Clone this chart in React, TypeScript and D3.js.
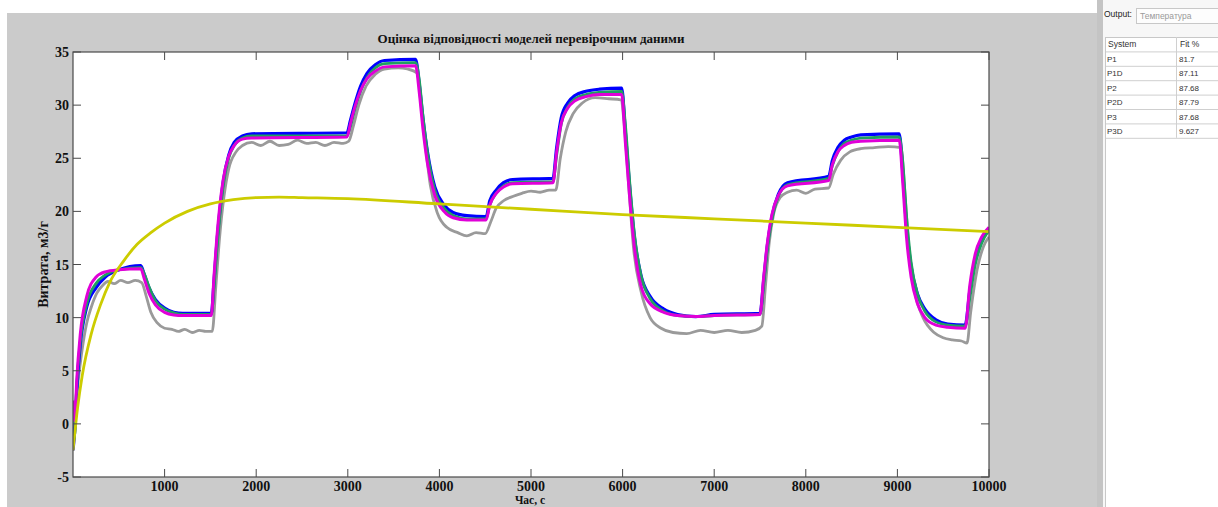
import React from "react";
import * as d3 from "d3";

const title = "Оцінка відповідності моделей перевірочним даними";
const yLabel = "Витрата, м3/г";
const xLabel = "Час, с";
const xTicks = [1000, 2000, 3000, 4000, 5000, 6000, 7000, 8000, 9000, 10000];
const yTicks = [-5, 0, 5, 10, 15, 20, 25, 30, 35];

const systems = ["P1", "P1D", "P2", "P2D", "P3", "P3D"];
const fits = ["81.7", "87.11", "87.68", "87.79", "87.68", "9.627"];

// model time grid (s)
const tModel = [0, 20, 40, 80, 150, 250, 350, 500, 740, 780, 830, 900, 1000, 1100, 1200, 1510, 1540, 1570, 1600, 1640, 1700, 1760, 1850, 1950, 2990, 3030, 3080, 3140, 3210, 3300, 3400, 3740, 3780, 3820, 3870, 3950, 4050, 4150, 4300, 4510, 4550, 4620, 4700, 4800, 5240, 5280, 5330, 5400, 5480, 5600, 5750, 5990, 6030, 6080, 6130, 6200, 6300, 6450, 6600, 6800, 7000, 7500, 7540, 7580, 7630, 7700, 7800, 8250, 8290, 8350, 8420, 8500, 8600, 9020, 9060, 9100, 9150, 9220, 9300, 9420, 9550, 9740, 9790, 9850, 9920, 10000];

const blueVals = [-2.5, -0.5, 3, 7.5, 11, 12.8, 13.8, 14.5, 14.9, 14.0, 12.8, 11.7, 10.9, 10.5, 10.4, 10.4, 13.5, 17, 19.8, 22.8, 25.3, 26.5, 27.1, 27.3, 27.4, 28.6, 30.2, 31.8, 33.0, 33.8, 34.2, 34.3, 32, 28.8, 25.6, 22.3, 20.6, 19.9, 19.6, 19.5, 21, 22, 22.7, 23.0, 23.1, 26, 28.8, 30.2, 30.9, 31.3, 31.5, 31.6, 27.5, 22, 17.5, 14, 12, 10.8, 10.3, 10.1, 10.3, 10.4, 13.5, 16.8, 19.5, 21.6, 22.7, 23.3, 24.8, 26.0, 26.7, 27.0, 27.2, 27.3, 23.5, 18.5, 14.8, 12.2, 10.8, 9.8, 9.4, 9.3, 12.5, 15.5, 17.3, 18.4];

const greenVals = [-1.8, -0.8, 3.5, 7.8, 11.3, 13.2, 14.0, 14.5, 14.7, 14.1, 12.9, 11.6, 10.8, 10.45, 10.3, 10.3, 12.8, 16.3, 19.3, 22.4, 25.0, 26.2, 26.9, 27.1, 27.1, 28.0, 29.7, 31.3, 32.6, 33.5, 33.9, 34.0, 32.4, 29, 25.5, 22.0, 20.3, 19.6, 19.3, 19.3, 20.6, 21.7, 22.4, 22.7, 22.8, 25.3, 28.2, 29.8, 30.6, 31.0, 31.2, 31.3, 28.2, 22.5, 17.8, 14, 11.8, 10.6, 10.2, 10.1, 10.2, 10.3, 13, 16.4, 19.2, 21.4, 22.5, 23.1, 24.3, 25.6, 26.4, 26.7, 26.9, 27.0, 24.5, 19.5, 15.2, 12.2, 10.6, 9.6, 9.3, 9.2, 11.8, 15.0, 17.0, 18.2];

const magentaVals = [2.2, 0.3, 4, 8.5, 12, 13.8, 14.3, 14.5, 14.6, 13.6, 12.3, 11.2, 10.5, 10.25, 10.2, 10.2, 14, 17.5, 20.3, 23, 25.2, 26.2, 26.8, 26.9, 27.0, 28.3, 29.9, 31.4, 32.5, 33.2, 33.6, 33.7, 31.2, 27.8, 24.5, 21.5, 20.0, 19.4, 19.2, 19.2, 20.6, 21.7, 22.3, 22.6, 22.7, 25.6, 28.3, 29.7, 30.4, 30.8, 31.0, 31.0, 26.5, 21, 16.5, 13, 11.3, 10.5, 10.2, 10.1, 10.2, 10.3, 13.8, 17, 19.7, 21.5, 22.4, 22.9, 24.4, 25.6, 26.2, 26.5, 26.6, 26.7, 22.5, 17.5, 13.8, 11.3, 10.0, 9.3, 9.1, 9.0, 13, 16, 17.6, 18.5];

// measured data
const tMeas = [0, 50, 100, 150, 200, 260, 320, 380, 450, 520, 600, 680, 750, 800, 850, 920, 1000, 1080, 1150, 1220, 1300, 1380, 1450, 1520, 1560, 1600, 1650, 1700, 1780, 1850, 1950, 2050, 2150, 2250, 2350, 2450, 2550, 2650, 2750, 2850, 2950, 3010, 3060, 3120, 3200, 3300, 3400, 3550, 3650, 3760, 3800, 3850, 3900, 3980, 4080, 4200, 4300, 4400, 4500, 4560, 4620, 4700, 4800, 4900, 5000, 5100, 5200, 5270, 5320, 5380, 5460, 5560, 5700, 5850, 5980, 6020, 6070, 6120, 6200, 6300, 6420, 6550, 6700, 6850, 7000, 7150, 7300, 7450, 7520, 7560, 7600, 7650, 7720, 7800, 7900, 8000, 8100, 8250, 8300, 8380, 8480, 8600, 8750, 8900, 9040, 9080, 9130, 9200, 9280, 9400, 9500, 9600, 9700, 9760, 9800, 9870, 9940, 10000];
const measVals = [-1, 3.5, 7, 9.5, 11, 12.3, 13.0, 13.4, 13.2, 13.5, 13.3, 13.5, 13.3, 12, 10.5, 9.5, 9.0, 8.9, 8.7, 8.9, 8.6, 8.8, 8.7, 8.7, 13, 17.5, 21.5, 24, 25.6, 26.2, 26.5, 26.2, 26.6, 26.2, 26.3, 26.7, 26.4, 26.5, 26.2, 26.5, 26.4, 26.6, 28, 30, 31.8, 32.9, 33.4, 33.5, 33.4, 33.0, 30, 26, 22.5, 19.8, 18.5, 18.0, 17.7, 18.0, 17.9, 19, 20.3, 21.0, 21.4, 21.7, 21.9, 21.8, 22.0, 22.0, 25, 27.5, 29.2, 30.2, 30.7, 30.6, 30.5, 28, 22, 16.5, 12.5, 10.0, 9.0, 8.6, 8.5, 8.8, 8.6, 8.8, 8.6, 8.8, 9.2, 13, 17, 19.8, 21.3, 21.8, 22.0, 21.7, 22.1, 22.2, 23.5, 24.8, 25.6, 25.9, 26.0, 26.1, 26.0, 22, 16, 12, 10, 8.6, 8.1, 7.9, 7.8, 7.6, 10.5, 14.5, 16.7, 17.6];

// P3D (yellow)
const tP3D = [0, 50, 100, 200, 300, 400, 550, 700, 850, 1000, 1250, 1500, 1750, 2000, 2250, 2500, 3000, 4000, 5000, 6000, 7000, 8000, 9000, 10000];
const p3dVals = [-2.5, 1.5, 4.5, 8.5, 11.2, 13.3, 15.3, 16.9, 18.0, 18.9, 20.0, 20.7, 21.1, 21.3, 21.35, 21.3, 21.2, 20.7, 20.2, 19.7, 19.3, 18.9, 18.5, 18.1];

const W = 1218;
const H = 507;
const plot = { left: 73, right: 989, top: 52, bottom: 477 };

export default function App() {
  const x = d3.scaleLinear().domain([0, 10000]).range([plot.left, plot.right]);
  const y = d3.scaleLinear().domain([-5, 35]).range([plot.bottom, plot.top]);
  const line = d3
    .line<[number, number]>()
    .x((d) => x(d[0]))
    .y((d) => y(d[1]))
    .curve(d3.curveMonotoneX);
  const zip = (t: number[], v: number[]) => t.map((tt, i) => [tt, v[i]] as [number, number]);

  const series = [
    { vals: zip(tMeas, measVals), color: "#9a9a9a", w: 2.8 },
    { vals: zip(tModel, blueVals), color: "#0000ff", w: 3.2 },
    { vals: zip(tModel, greenVals), color: "#1fa060", w: 2.8 },
    { vals: zip(tModel, magentaVals), color: "#e000d8", w: 3 },
    { vals: zip(tP3D, p3dVals), color: "#cccc00", w: 2.8 },
  ];

  const serif = "'Liberation Serif', 'Times New Roman', serif";
  const sans = "'Liberation Sans', Arial, sans-serif";
  const axisColor = "#4a4a4a";
  const rowH = 14.4;
  const tableTop = 37;

  return (
    <div style={{ position: "absolute", left: 0, top: 0, width: W, height: H, overflow: "hidden" }}>
      <svg width={W} height={H} style={{ display: "block" }}>
        <defs>
          <clipPath id="plotclip">
            <rect x={plot.left} y={plot.top} width={plot.right - plot.left} height={plot.bottom - plot.top} />
          </clipPath>
        </defs>
        <rect x={0} y={0} width={W} height={H} fill="#ffffff" />
        <rect x={7} y={13} width={1090} height={H - 13} fill="#cbcbcb" />
        <rect x={plot.left} y={plot.top} width={plot.right - plot.left} height={plot.bottom - plot.top} fill="#ffffff" />

        <g clipPath="url(#plotclip)">
          {series.map((s, i) => (
            <path key={i} d={line(s.vals) || ""} fill="none" stroke={s.color} strokeWidth={s.w} strokeLinejoin="round" />
          ))}
        </g>

        {/* axes box */}
        <rect x={plot.left} y={plot.top} width={plot.right - plot.left} height={plot.bottom - plot.top} fill="none" stroke={axisColor} strokeWidth={1.2} />
        {xTicks.map((t) => (
          <g key={"xt" + t}>
            <line x1={x(t)} x2={x(t)} y1={plot.bottom} y2={plot.bottom - 8} stroke={axisColor} />
            <line x1={x(t)} x2={x(t)} y1={plot.top} y2={plot.top + 8} stroke={axisColor} />
            <text x={x(t)} y={490.5} textAnchor="middle" fontFamily={serif} fontWeight="bold" fontSize={14} fill="#111">
              {t}
            </text>
          </g>
        ))}
        {yTicks.map((v) => (
          <g key={"yt" + v}>
            <line x1={plot.left} x2={plot.left + 8} y1={y(v)} y2={y(v)} stroke={axisColor} />
            <line x1={plot.right} x2={plot.right - 8} y1={y(v)} y2={y(v)} stroke={axisColor} />
            <text x={69} y={y(v) + 5} textAnchor="end" fontFamily={serif} fontWeight="bold" fontSize={14} fill="#111">
              {v}
            </text>
          </g>
        ))}

        <text x={(plot.left + plot.right) / 2} y={43} textAnchor="middle" fontFamily={serif} fontWeight="bold" fontSize={13} fill="#111">
          {title}
        </text>
        <text
          transform={`translate(48, ${(plot.top + plot.bottom) / 2}) rotate(-90)`}
          textAnchor="middle"
          fontFamily={serif}
          fontWeight="bold"
          fontSize={14}
          fill="#111"
        >
          {yLabel}
        </text>
        <text x={530} y={504} textAnchor="middle" fontFamily={serif} fontWeight="bold" fontSize={11.5} fill="#111">
          {xLabel}
        </text>

        {/* right panel */}
        <rect x={1097} y={0} width={6} height={H} fill="#c4c4c4" />
        <rect x={1103} y={0} width={W - 1103} height={H} fill="#f7f7f7" />
        <text x={1104} y={17} fontFamily={sans} fontSize={8.5} fill="#222">
          Output:
        </text>
        <rect x={1136.5} y={8.5} width={90} height={15} fill="#fdfdfd" stroke="#c8c8c8" />
        <text x={1140} y={19} fontFamily={sans} fontSize={8.5} fill="#9a9a9a">
          Температура
        </text>
        <rect x={1105.5} y={tableTop + 0.5} width={W - 1105} height={H - tableTop} fill="#ffffff" stroke="#c8c8c8" />
        <text x={1108} y={tableTop + 10} fontFamily={sans} fontSize={8.5} fill="#333">
          System
        </text>
        <text x={1180} y={tableTop + 10} fontFamily={sans} fontSize={8.5} fill="#333">
          Fit %
        </text>
        <line x1={1176.5} x2={1176.5} y1={tableTop} y2={tableTop + rowH * 7} stroke="#d0d0d0" />
        {systems.map((s, i) => {
          const yy = tableTop + rowH * (i + 1);
          return (
            <g key={s}>
              <line x1={1106} x2={W} y1={yy + 0.5} y2={yy + 0.5} stroke="#cfcfcf" />
              <text x={1107} y={yy + 10.5} fontFamily={sans} fontSize={8} fill="#333">
                {s}
              </text>
              <text x={1179} y={yy + 10.5} fontFamily={sans} fontSize={8} fill="#333">
                {fits[i]}
              </text>
            </g>
          );
        })}
        <line x1={1106} x2={W} y1={tableTop + rowH * 7 + 0.5} y2={tableTop + rowH * 7 + 0.5} stroke="#cfcfcf" />
      </svg>
    </div>
  );
}
